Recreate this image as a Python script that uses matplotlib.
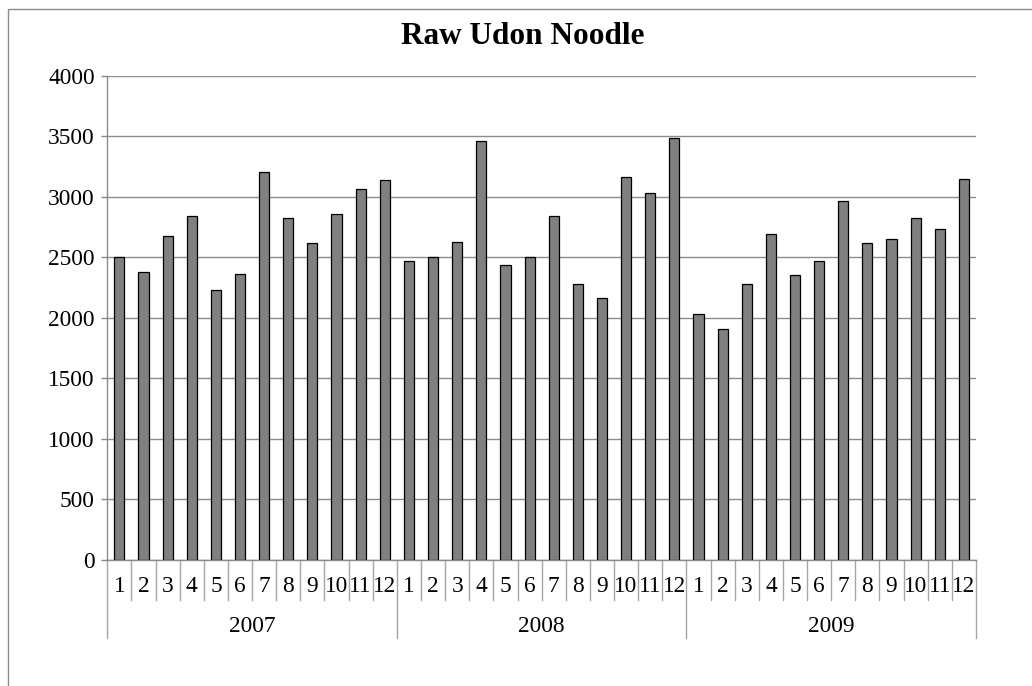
import matplotlib
matplotlib.use("Agg")
import matplotlib.pyplot as plt
from matplotlib.patches import Rectangle
import matplotlib.transforms as mtransforms

title = "Raw Udon Noodle"
years = ["2007", "2008", "2009"]
months = [str(m) for m in range(1, 13)]
values_2007 = [2505, 2380, 2672, 2836, 2227, 2363, 3200, 2820, 2614, 2855, 3067, 3141]
values_2008 = [2468, 2500, 2624, 3460, 2432, 2503, 2841, 2281, 2162, 3158, 3031, 3487]
values_2009 = [2030, 1906, 2277, 2692, 2350, 2465, 2968, 2618, 2651, 2824, 2733, 3144]
yticks = [0, 500, 1000, 1500, 2000, 2500, 3000, 3500, 4000]

plt.rcParams['font.family'] = ['Liberation Serif', 'DejaVu Serif']

fig = plt.figure(figsize=(10.32, 6.86), dpi=100)
W, H = 1032, 686
ax = fig.add_axes([107.3 / W, 1 - 560 / H, (976 - 107.3) / W, (560 - 75.5) / H])

values = values_2007 + values_2008 + values_2009
x = list(range(len(values)))
ax.bar(x, values, width=0.42, color="#808080", edgecolor="black", linewidth=0.9, zorder=3)

fs = 16.8
ax.set_xlim(-0.5, len(values) - 0.5)
ax.set_ylim(0, 4000)
ax.set_yticks(yticks)
ax.set_yticklabels([str(v) for v in yticks], fontsize=fs)
ax.tick_params(axis='y', length=4.5, width=1, color="#888888", pad=4.5)
ax.set_xticks([])
ax.grid(axis='y', color="#8c8c8c", linewidth=1, zorder=0)
for s in ["top", "right"]:
    ax.spines[s].set_visible(False)
ax.spines["left"].set_color("#8c8c8c")
ax.spines["bottom"].set_color("#8c8c8c")
ax.spines["left"].set_linewidth(1)
ax.spines["bottom"].set_linewidth(1)

trans = mtransforms.blended_transform_factory(ax.transData, ax.transAxes)
ph = 560 - 75.5
y_month_line = -(600 - 560) / ph
y_year_line = -(638 - 560) / ph
y_month_lab = -(587 - 560) / ph
y_year_lab = -(627 - 560) / ph

n = len(values)
for i in range(n + 1):
    xb = i - 0.5
    bottom = y_year_line if i % 12 == 0 else y_month_line
    ax.plot([xb, xb], [0, bottom], transform=trans, color="#a6a6a6", linewidth=1, clip_on=False)

for yi, yr in enumerate(years):
    for mi, m in enumerate(months):
        ax.text(yi * 12 + mi, y_month_lab, m, transform=trans, ha="center", va="center", fontsize=fs)
    ax.text(yi * 12 + 5.5, y_year_lab, yr, transform=trans, ha="center", va="center", fontsize=fs)

fig.text(523 / W, 1 - 37 / H, title, ha="center", va="center", fontsize=22.5, fontweight="bold")

fig.patches.append(Rectangle((7.5 / W, -0.1), 2, 1 - 8.5 / H + 0.1, transform=fig.transFigure,
                             fill=False, edgecolor="#8c8c8c", linewidth=1))

fig.savefig("out.png", dpi=100)
